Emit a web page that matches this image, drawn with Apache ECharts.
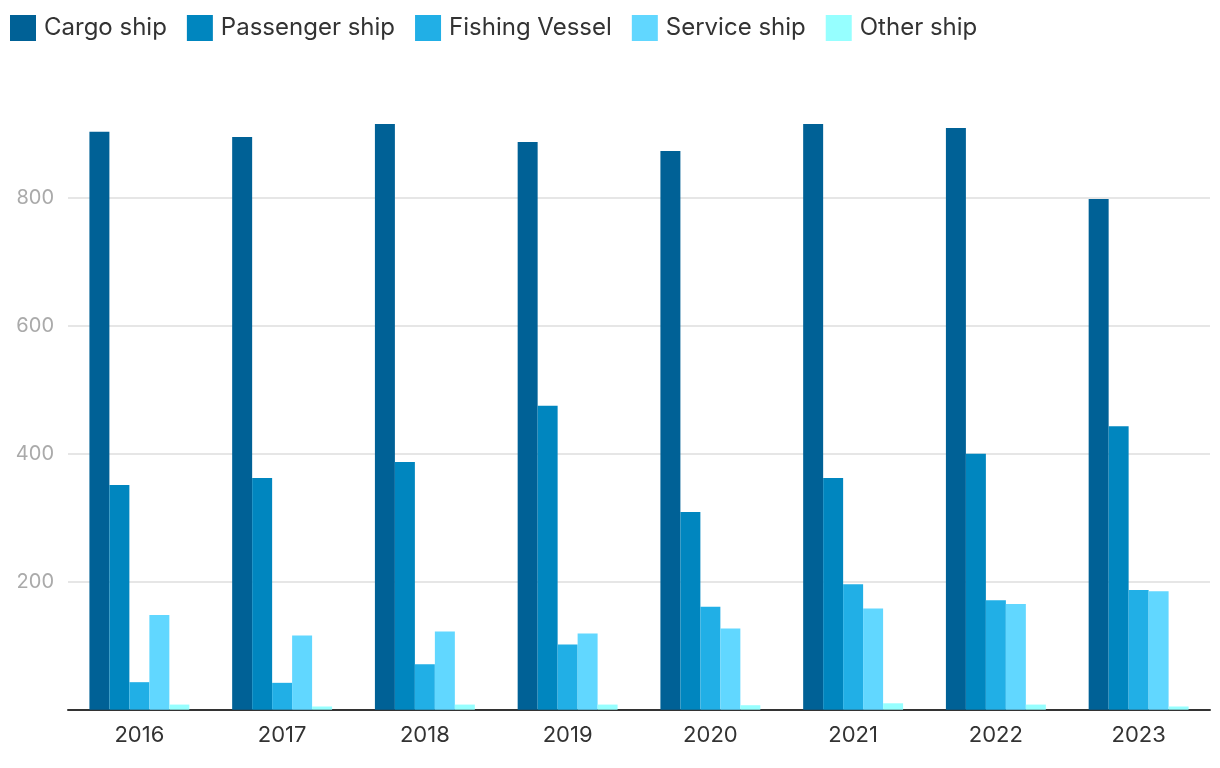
<!DOCTYPE html>
<html>
<head>
<meta charset="utf-8">
<script src="https://cdn.jsdelivr.net/npm/echarts@6/dist/echarts.min.js"></script>
<style>
html,body{margin:0;padding:0;background:#fff;}
#chart{width:1220px;height:768px;}
</style>
</head>
<body>
<div id="chart"></div>
<script>
const categories = ['2016','2017','2018','2019','2020','2021','2022','2023'];
const cargoShip = [903, 895, 915, 887, 873, 915, 909, 798];
const passengerShip = [351, 362, 387, 475, 309, 362, 400, 443];
const fishingVessel = [43, 42, 71, 102, 161, 196, 171, 187];
const serviceShip = [148, 116, 122, 119, 127, 158, 165, 185];
const otherShip = [8, 5, 8, 8, 7, 10, 8, 5];
const seriesNames = ['Cargo ship','Passenger ship','Fishing Vessel','Service ship','Other ship'];
const seriesData = [cargoShip, passengerShip, fishingVessel, serviceShip, otherShip];
const colors = ['#006196','#0086BF','#21AFE6','#61D7FF','#96FFFF'];

const chart = echarts.init(document.getElementById('chart'));
chart.setOption({
  animation: false,
  color: colors,
  textStyle: { fontFamily: 'Inter' },
  legend: {
    left: 5, top: 10,
    itemWidth: 26, itemHeight: 26, itemGap: 20,
    icon: 'rect',
    textStyle: { fontSize: 24, color: '#333', fontFamily: 'Inter', padding: [0,0,0,3] },
    data: seriesNames
  },
  grid: { left: 68, right: 10, top: 69.7, bottom: 58.3, containLabel: false },
  xAxis: {
    type: 'category',
    data: categories,
    axisLine: { lineStyle: { color: '#333', width: 2 } },
    axisTick: { show: false },
    axisLabel: { fontSize: 22, color: '#333', margin: 15, fontFamily: 'Inter' }
  },
  yAxis: {
    type: 'value',
    min: 0, max: 1000, interval: 200,
    axisLine: { show: false },
    axisTick: { show: false },
    axisLabel: { fontSize: 20, color: '#aaa', margin: 14, showMinLabel: false, showMaxLabel: false, fontFamily: 'Inter' },
    splitLine: { lineStyle: { color: '#e6e6e6', width: 2 }, showMaxLine: false, showMinLine: false }
  },
  series: seriesData.map((d, i) => ({
    name: seriesNames[i],
    type: 'bar',
    data: d,
    barGap: '0%',
    barCategoryGap: '30%'
  }))
});
</script>
</body>
</html>
